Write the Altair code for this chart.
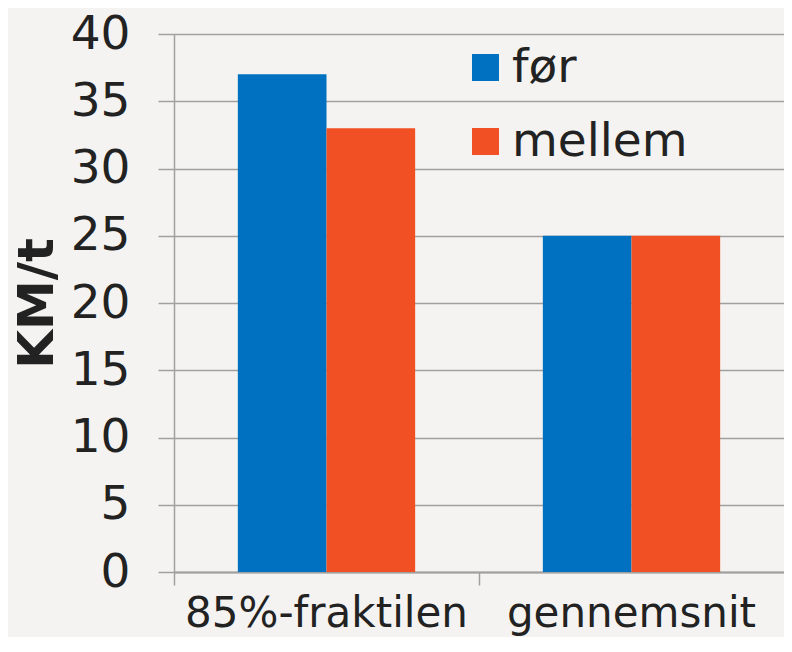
import altair as alt
import pandas as pd

categories = ["85%-fraktilen", "85%-fraktilen", "gennemsnit", "gennemsnit"]
series = ["før", "mellem", "før", "mellem"]
values = [37, 33, 25, 25]
y_ticks = [0, 5, 10, 15, 20, 25, 30, 35, 40]
series_order = ["før", "mellem"]
series_colors = ["#0070c0", "#f15024"]

df = pd.DataFrame({"kategori": categories, "serie": series, "verdi": values})

FONT = "DejaVu Sans"
TXT = "#222222"
GRID = "#a0a0a0"

chart = alt.Chart(df).mark_bar().encode(
    x=alt.X("kategori:N", sort=["85%-fraktilen", "gennemsnit"],
            scale=alt.Scale(paddingInner=0, paddingOuter=0),
            axis=alt.Axis(title=None, labelAngle=0, labelFontSize=42, labelFont=FONT,
                          labelColor=TXT, labelPadding=8, labelLimit=0, tickSize=13,
                          tickColor=GRID, tickWidth=1.5, bandPosition=0, domainColor=GRID,
                          domainWidth=2, grid=False)),
    xOffset=alt.XOffset("serie:N", sort=series_order,
                        scale=alt.Scale(paddingInner=0, paddingOuter=0.72)),
    y=alt.Y("verdi:Q", scale=alt.Scale(domain=[0, 40], nice=False),
            axis=alt.Axis(title="KM/t", values=y_ticks, labelFontSize=47, labelFont=FONT,
                          labelColor=TXT, labelPadding=28, tickSize=16, tickColor=GRID,
                          tickWidth=1.5, gridColor=GRID, gridWidth=1.5, domainColor=GRID,
                          domainWidth=1.5, titleFontSize=50, titleFont=FONT,
                          titleFontWeight="bold", titleColor=TXT, titlePadding=8)),
    color=alt.Color("serie:N", sort=series_order,
                    scale=alt.Scale(domain=series_order, range=series_colors),
                    legend=alt.Legend(title=None, orient="none", legendX=288, legendY=10,
                                      padding=0, symbolType="square", symbolSize=729,
                                      symbolStrokeWidth=0, labelFontSize=47, labelFont=FONT,
                                      labelColor=TXT, rowPadding=26, labelOffset=3,
                                      labelLimit=0)),
).properties(
    width=610,
    height=538,
    background="#f4f3f1",
    padding={"left": 166, "top": 26, "right": 0, "bottom": 65},
    autosize=alt.AutoSizeParams(type="none"),
).configure_view(stroke=None)

chart.save("out.html", embed_options={"renderer": "svg", "actions": False})
